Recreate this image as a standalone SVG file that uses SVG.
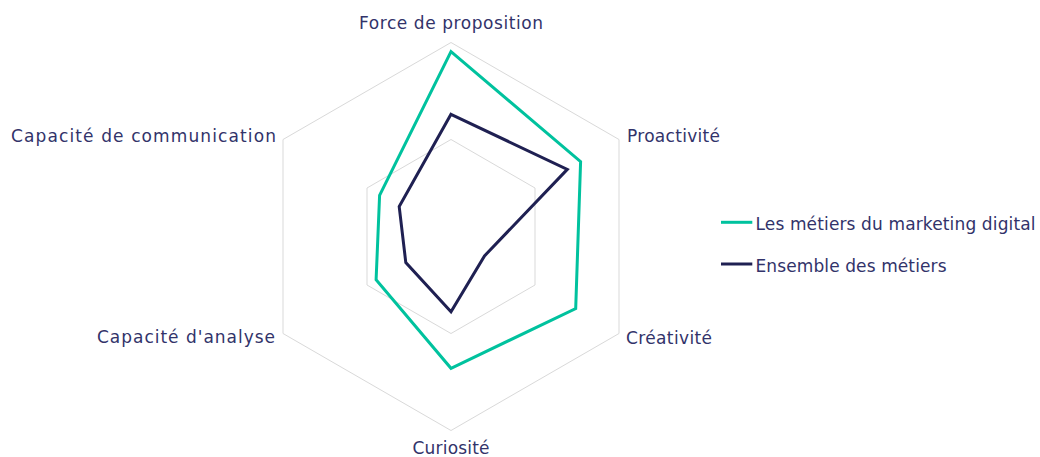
<svg xmlns="http://www.w3.org/2000/svg" width="1040" height="457" viewBox="0 0 1040 457">
<style>
.bg{fill:#ffffff}
.grid{fill:none;stroke:#d9d9d9;stroke-width:1}
.s1{fill:none;stroke:#00c29e;stroke-width:3;stroke-linejoin:miter}
.s2{fill:none;stroke:#1f2052;stroke-width:3;stroke-linejoin:miter}
.lbl{font-family:"DejaVu Sans","Liberation Sans",sans-serif;font-size:17px;fill:#32336a}
.mid{text-anchor:middle}
.end{text-anchor:end}
</style>
<rect class="bg" x="0" y="0" width="1040" height="457"/>
<g id="grid">
<polygon class="grid" points="451,42.5 619,139.5 619,333.5 451,430.5 283,333.5 283,139.5"/>
<polygon class="grid" points="451,139.5 535,188 535,285 451,333.5 367,285 367,188"/>
</g>
<g id="series">
<polygon id="series-marketing" class="s1" points="451,51.7 580.6,161.7 575.7,308.5 451,368.3 376.1,279.8 379.6,195.3"/>
<polygon id="series-ensemble" class="s2" points="451,114.3 567.3,169.4 484.5,255.9 451,311.7 405.8,262.6 399.2,206.6"/>
</g>
<g id="axis-labels">
<text id="lbl-force" class="lbl mid" x="451" y="29.3" textLength="184">Force de proposition</text>
<text id="lbl-proactivite" class="lbl" x="627" y="142" textLength="93">Proactivité</text>
<text id="lbl-creativite" class="lbl" x="626" y="344" textLength="86">Créativité</text>
<text id="lbl-curiosite" class="lbl mid" x="451" y="454.3" textLength="77">Curiosité</text>
<text id="lbl-analyse" class="lbl end" x="275" y="343.3" textLength="178">Capacité d'analyse</text>
<text id="lbl-communication" class="lbl end" x="276" y="142" textLength="265">Capacité de communication</text>
</g>
<g id="legend">
<g id="legend-marketing">
<line class="s1" x1="721" y1="222.3" x2="752.3" y2="222.3"/>
<text class="lbl" x="755.5" y="230" textLength="280">Les métiers du marketing digital</text>
</g>
<g id="legend-ensemble">
<line class="s2" x1="721" y1="264" x2="752.3" y2="264"/>
<text class="lbl" x="755.5" y="271.5" textLength="191">Ensemble des métiers</text>
</g>
</g>
</svg>
